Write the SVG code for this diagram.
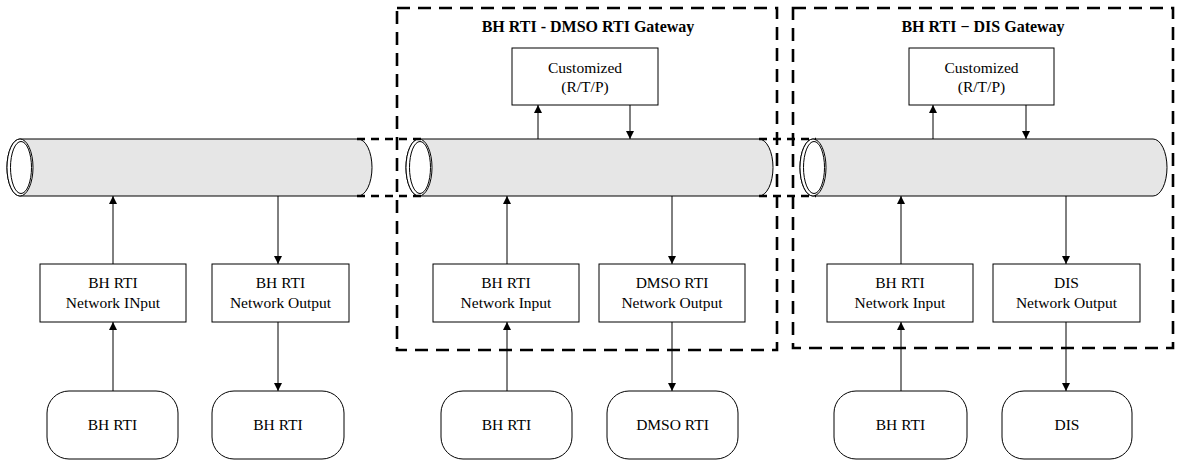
<svg xmlns="http://www.w3.org/2000/svg" width="1183" height="462" viewBox="0 0 1183 462">
<style>
.t{font-family:"Liberation Serif","Times New Roman",serif;font-size:15.5px;fill:#000;text-anchor:middle}
.title{font-family:"Liberation Serif","Times New Roman",serif;font-size:16px;font-weight:bold;fill:#000;text-anchor:middle}
.box{fill:#fff;stroke:#000;stroke-width:1}
.pipe{fill:#e6e6e6;stroke:#000;stroke-width:1}
.end{fill:#fff;stroke:#000;stroke-width:1}
.gw{fill:none;stroke:#000;stroke-width:2.6;stroke-dasharray:13 8}
.link{fill:none;stroke:#000;stroke-width:2.6;stroke-dasharray:8 6}
.c{stroke:#000;stroke-width:1;fill:none;marker-end:url(#ah)}
</style>
<defs>
<marker id="ah" viewBox="0 0 10 10" refX="10" refY="5" markerWidth="8" markerHeight="8" markerUnits="userSpaceOnUse" orient="auto">
<path d="M0,0 L10,5 L0,10 Z" fill="#000"/>
</marker>
</defs>
<rect width="1183" height="462" fill="#fff"/>

<g id="pipes">
<g id="pipe1">
<path class="pipe" d="M20,139 L358,139 A14,28.5 0 0 1 358,196 L20,196 A13,28.5 0 0 1 20,139 Z"/>
<ellipse class="end" cx="20" cy="167.5" rx="13" ry="28.5"/>
<ellipse class="end" cx="21" cy="167.5" rx="10.5" ry="26"/>
</g>
<g id="pipe2">
<path class="pipe" d="M419,139 L759,139 A14,28.5 0 0 1 759,196 L419,196 A13,28.5 0 0 1 419,139 Z"/>
<ellipse class="end" cx="419" cy="167.5" rx="13" ry="28.5"/>
<ellipse class="end" cx="420" cy="167.5" rx="10.5" ry="26"/>
</g>
<g id="pipe3">
<path class="pipe" d="M813,139 L1153,139 A14,28.5 0 0 1 1153,196 L813,196 A13,28.5 0 0 1 813,139 Z"/>
<ellipse class="end" cx="813" cy="167.5" rx="13" ry="28.5"/>
<ellipse class="end" cx="814" cy="167.5" rx="10.5" ry="26"/>
</g>
</g>

<g id="links">
<path class="link" d="M357,139 H421 M357,196 H421 M759,139 H816 M759,196 H816"/>
</g>

<g id="gateway1">
<rect class="gw" x="397" y="8" width="380" height="342"/>
<text class="title" x="588" y="32">BH RTI - DMSO RTI Gateway</text>
</g>
<g id="gateway2">
<rect class="gw" x="793" y="8" width="380" height="340"/>
<text class="title" x="983" y="32">BH RTI − DIS Gateway</text>
</g>

<g id="cust1">
<rect class="box" x="512" y="48" width="146" height="57"/>
<text class="t" x="585" y="73">Customized</text>
<text class="t" x="585" y="92">(R/T/P)</text>
</g>
<g id="cust2">
<rect class="box" x="909" y="48" width="145" height="57"/>
<text class="t" x="981.5" y="73">Customized</text>
<text class="t" x="981.5" y="92">(R/T/P)</text>
</g>

<g id="in1">
<rect class="box" x="40" y="264" width="146" height="58"/>
<text class="t" x="113" y="288">BH RTI</text>
<text class="t" x="113" y="308">Network INput</text>
</g>
<g id="out1">
<rect class="box" x="212" y="264" width="137" height="58"/>
<text class="t" x="280.5" y="288">BH RTI</text>
<text class="t" x="280.5" y="308">Network Output</text>
</g>
<g id="in2">
<rect class="box" x="433" y="264" width="146" height="58"/>
<text class="t" x="506" y="288">BH RTI</text>
<text class="t" x="506" y="308">Network Input</text>
</g>
<g id="out2">
<rect class="box" x="599" y="264" width="146" height="58"/>
<text class="t" x="672" y="288">DMSO RTI</text>
<text class="t" x="672" y="308">Network Output</text>
</g>
<g id="in3">
<rect class="box" x="827" y="264" width="146" height="58"/>
<text class="t" x="900" y="288">BH RTI</text>
<text class="t" x="900" y="308">Network Input</text>
</g>
<g id="out3">
<rect class="box" x="993" y="264" width="147" height="58"/>
<text class="t" x="1066.5" y="288">DIS</text>
<text class="t" x="1066.5" y="308">Network Output</text>
</g>

<g id="sys1"><rect class="box" x="47" y="391" width="131" height="68" rx="22"/><text class="t" x="112.5" y="430">BH RTI</text></g>
<g id="sys2"><rect class="box" x="212" y="391" width="132" height="68" rx="22"/><text class="t" x="278" y="430">BH RTI</text></g>
<g id="sys3"><rect class="box" x="441" y="391" width="131" height="68" rx="22"/><text class="t" x="506.5" y="430">BH RTI</text></g>
<g id="sys4"><rect class="box" x="607" y="391" width="131" height="68" rx="22"/><text class="t" x="672.5" y="430">DMSO RTI</text></g>
<g id="sys5"><rect class="box" x="834" y="391" width="133" height="68" rx="22"/><text class="t" x="900.5" y="430">BH RTI</text></g>
<g id="sys6"><rect class="box" x="1002" y="391" width="130" height="68" rx="22"/><text class="t" x="1067" y="430">DIS</text></g>

<g id="connectors">
<path class="c" d="M113,391 V322"/>
<path class="c" d="M113,264 V196"/>
<path class="c" d="M278,196 V264"/>
<path class="c" d="M278,322 V391"/>
<path class="c" d="M507,391 V322"/>
<path class="c" d="M507,264 V196"/>
<path class="c" d="M672,196 V264"/>
<path class="c" d="M672,322 V391"/>
<path class="c" d="M901,391 V322"/>
<path class="c" d="M901,264 V196"/>
<path class="c" d="M1066,196 V264"/>
<path class="c" d="M1066,322 V391"/>
<path class="c" d="M538,139 V105"/>
<path class="c" d="M630,105 V139"/>
<path class="c" d="M933,139 V105"/>
<path class="c" d="M1026,105 V139"/>
</g>
</svg>
